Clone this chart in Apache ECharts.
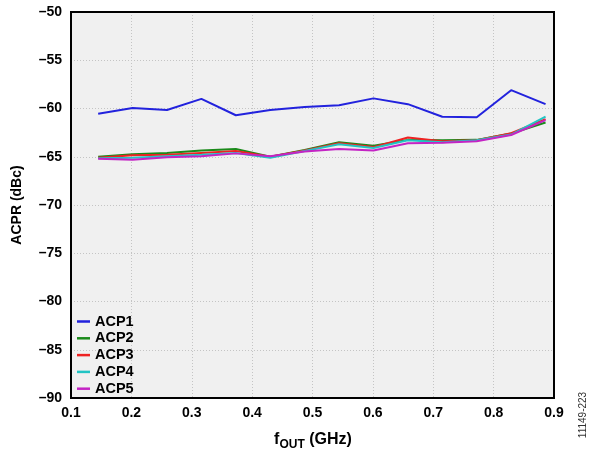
<!DOCTYPE html>
<html>
<head>
<meta charset="utf-8">
<script src="https://cdn.jsdelivr.net/npm/echarts@6/dist/echarts.min.js"></script>
<style>html,body{margin:0;padding:0;background:#fff}#c{width:592px;height:455px}</style>
</head>
<body>
<div id="c"></div>
<script>
var freqs = [0.145, 0.202, 0.259, 0.316, 0.373, 0.43, 0.487, 0.544, 0.601, 0.658, 0.715, 0.772, 0.829, 0.886];
var acp1 = [-60.55, -59.95, -60.15, -59.0, -60.7, -60.15, -59.85, -59.67, -58.95, -59.55, -60.85, -60.9, -58.1, -59.55];
var acp2 = [-65.0, -64.75, -64.6, -64.35, -64.2, -65.0, -64.3, -63.5, -63.85, -63.25, -63.3, -63.25, -62.6, -61.45];
var acp3 = [-65.1, -64.85, -64.8, -64.6, -64.4, -65.0, -64.35, -63.6, -64.0, -63.0, -63.4, -63.3, -62.55, -61.1];
var acp4 = [-65.15, -65.1, -64.95, -64.8, -64.6, -65.1, -64.4, -63.7, -64.1, -63.3, -63.5, -63.3, -62.7, -60.85];
var acp5 = [-65.2, -65.3, -65.05, -64.95, -64.65, -64.95, -64.45, -64.2, -64.35, -63.6, -63.55, -63.4, -62.75, -61.2];
var seriesNames = ['ACP1', 'ACP2', 'ACP3', 'ACP4', 'ACP5'];
var seriesColors = ['#2222dd', '#1a8a1a', '#ee2222', '#22c4c4', '#c424c4'];
var seriesData = [acp1, acp2, acp3, acp4, acp5];

function pairs(vals) { return vals.map(function (v, i) { return [freqs[i], v]; }); }
var FONT = 'Liberation Sans, Arial, sans-serif';
var G = { left: 71, right: 38, top: 12, bottom: 57 };
var W = 592, H = 455;

var chart = echarts.init(document.getElementById('c'), null, { renderer: 'canvas' });
chart.setOption({
  animation: false,
  backgroundColor: '#ffffff',
  grid: { left: G.left, right: G.right, top: G.top, bottom: G.bottom, show: true, backgroundColor: '#f0f0f0', borderWidth: 0 },
  legend: {
    orient: 'vertical', left: 77, top: 314, padding: 0,
    itemWidth: 13, itemHeight: 14, itemGap: 1.8,
    icon: 'path://M0,6 L13,6 L13,8.5 L0,8.5 Z',
    textStyle: { fontFamily: FONT, fontSize: 14.5, fontWeight: 'bold', color: '#000', lineHeight: 14 },
    data: seriesNames
  },
  xAxis: {
    type: 'value', min: 0.1, max: 0.9, interval: 0.1,
    axisLine: { show: false }, axisTick: { show: false },
    axisLabel: { margin: 8, fontFamily: FONT, fontSize: 14, fontWeight: 'bold', color: '#000', formatter: function (v) { return v.toFixed(1); } },
    splitLine: { show: true, lineStyle: { color: '#c4c4c4', type: [1, 2], width: 1 } }
  },
  yAxis: {
    type: 'value', min: -90, max: -50, interval: 5,
    axisLine: { show: false }, axisTick: { show: false },
    axisLabel: { margin: 9, fontFamily: FONT, fontSize: 14, fontWeight: 'bold', color: '#000', formatter: function (v) { return (v < 0 ? '\u2013' : '') + Math.abs(v); } },
    splitLine: { show: true, lineStyle: { color: '#c4c4c4', type: [1, 2], width: 1 } }
  },
  graphic: [
    { type: 'rect', z: 100, silent: true,
      shape: { x: G.left, y: G.top, width: W - G.left - G.right, height: H - G.top - G.bottom },
      style: { fill: 'none', stroke: '#000', lineWidth: 2 } },
    { type: 'text', rotation: Math.PI / 2, x: 17, y: 205,
      style: { text: 'ACPR (dBc)', fontFamily: FONT, fontSize: 14, fontWeight: 'bold', fill: '#000', align: 'center', verticalAlign: 'middle' } },
    { type: 'text', x: 313, y: 440,
      style: { text: '{f|f}{s|OUT}{f| (GHz)}', align: 'center', verticalAlign: 'middle',
        rich: { f: { fontFamily: FONT, fontSize: 16, fontWeight: 'bold', fill: '#000', lineHeight: 22 },
                s: { fontFamily: FONT, fontSize: 12, fontWeight: 'bold', fill: '#000', lineHeight: 12, verticalAlign: 'bottom' } } } },
    { type: 'text', rotation: Math.PI / 2, x: 583, y: 415,
      style: { text: '11149-223', fontFamily: FONT, fontSize: 10, fill: '#333', align: 'center', verticalAlign: 'middle' } }
  ],
  series: seriesData.map(function (d, i) {
    return { name: seriesNames[i], type: 'line', data: pairs(d), showSymbol: false, symbol: 'none',
      lineStyle: { color: seriesColors[i], width: 2 }, itemStyle: { color: seriesColors[i] } };
  })
});
</script>
</body>
</html>
